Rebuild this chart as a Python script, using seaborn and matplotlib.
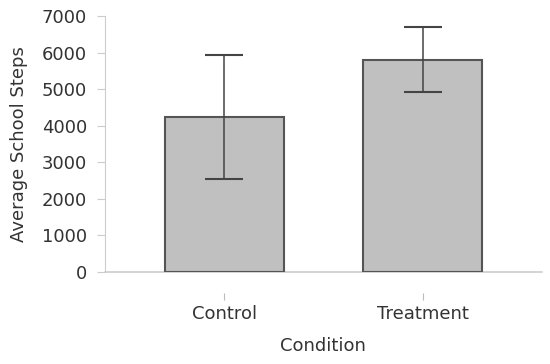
import numpy as np
import pandas as pd
import matplotlib
matplotlib.use("Agg")
import matplotlib.pyplot as plt
import seaborn as sns

# values
conditions = ["Control", "Treatment"]
mean_steps = [4230, 5810]
sd_steps = [1700, 900]

sns.set_style("white")
plt.rcParams['font.family'] = ['DejaVu Sans']

df = pd.DataFrame({'Condition': conditions, 'steps': mean_steps, 'sd': sd_steps})

fig = plt.figure(figsize=(5.5, 3.64), dpi=100)
ax = fig.add_axes([0.191, 0.253, 0.794, 0.703])

sns.barplot(data=df, x='Condition', y='steps', color='#c0c0c0', saturation=1,
			edgecolor='#555555', linewidth=1.5, width=0.6, errorbar=None, ax=ax)
ax.errorbar(df.Condition, df.steps, yerr=df.sd, fmt='none', ecolor='#444444',
			elinewidth=1.1, capsize=14, capthick=1.5)

ax.set_xlim(-0.6, 1.6)
ax.set_ylim(0, 7000)
ax.set_yticks(range(0, 7001, 1000))

txt = '#333333'
fs = 13
ax.set_xlabel('Condition', fontsize=fs, color=txt, labelpad=10)
ax.set_ylabel('Average School Steps', fontsize=fs, color=txt, labelpad=10)

# light axis lines, x ticks detached below the baseline
for s in ['top', 'right']:
	ax.spines[s].set_visible(False)
ax.spines['left'].set_color('#cccccc')
ax.spines['bottom'].set_position(('outward', 15))
ax.spines['bottom'].set_visible(False)
ax.axhline(0, color='#cccccc', lw=1.2, zorder=0.5, clip_on=False)

ax.tick_params(axis='y', direction='out', length=6, color='#cccccc', labelsize=fs,
			   labelcolor=txt, left=True, pad=7)
ax.tick_params(axis='x', direction='out', length=5, color='#bbbbbb', labelsize=fs,
			   labelcolor=txt, bottom=True, pad=4)

fig.savefig('out.png', dpi=100)
